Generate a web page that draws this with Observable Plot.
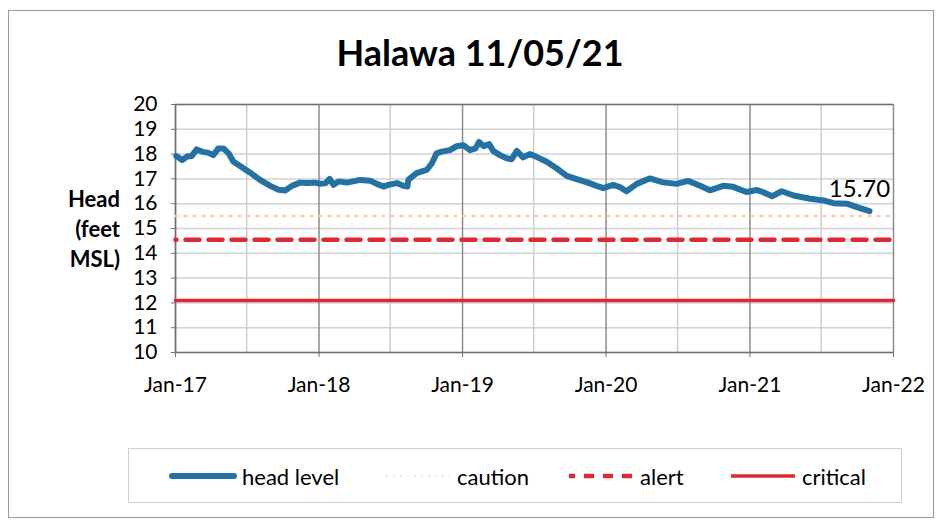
<!DOCTYPE html>
<html><head><meta charset="utf-8">
<script src="https://cdn.jsdelivr.net/npm/d3@7"></script>
<script src="https://cdn.jsdelivr.net/npm/@observablehq/plot@0.6"></script>
<style>
body{margin:0;background:#fff;font-family:Lato,"Open Sans",sans-serif;}
#chart{position:relative;width:942px;height:523px;overflow:hidden;background:#fff;}
#chart svg.plot{position:absolute;left:0;top:0;}
#border{position:absolute;left:8px;top:10px;width:926px;height:508px;border:1.5px solid #9a9a9a;box-sizing:border-box;}
#title{position:absolute;left:0;width:960px;top:30px;text-align:center;font-weight:bold;font-size:36px;color:#000;}
#ylabel{position:absolute;right:822px;top:184px;text-align:right;font-weight:bold;font-size:22px;line-height:30px;color:#000;}
#legend{position:absolute;left:128px;top:448px;width:774px;height:55px;border:1.5px solid #cfcfcf;box-sizing:border-box;}
.item{position:absolute;top:0;height:54px;display:flex;align-items:center;font-size:22px;color:#000;}
.item svg{margin-right:5px;}
</style></head><body>
<div id="chart">
 <div id="border"></div>
 <div id="title">Halawa 11/05/21</div>
 <div id="ylabel">Head<br>(feet<br>MSL)</div>
 <div id="legend"></div>
</div>
<script>
// ---- data ----
const headDates = ["2017-01-03","2017-01-18","2017-01-30","2017-02-11","2017-02-24","2017-03-09","2017-03-26","2017-04-07","2017-04-20","2017-05-03","2017-05-16","2017-05-28","2017-06-19","2017-07-10","2017-08-04","2017-08-30","2017-09-20","2017-10-07","2017-10-24","2017-11-14","2017-12-01","2017-12-22","2018-01-04","2018-01-17","2018-01-28","2018-02-07","2018-02-20","2018-03-13","2018-04-16","2018-05-11","2018-05-28","2018-06-14","2018-06-26","2018-07-18","2018-08-03","2018-08-14","2018-08-16","2018-09-06","2018-10-02","2018-10-15","2018-10-27","2018-11-09","2018-11-30","2018-12-17","2019-01-03","2019-01-20","2019-02-03","2019-02-12","2019-02-24","2019-03-10","2019-03-20","2019-04-06","2019-04-23","2019-05-06","2019-05-19","2019-06-04","2019-06-21","2019-07-08","2019-08-03","2019-08-28","2019-09-23","2019-10-18","2019-11-16","2019-12-08","2019-12-25","2020-01-19","2020-02-05","2020-02-22","2020-03-19","2020-04-21","2020-05-25","2020-06-28","2020-07-28","2020-08-27","2020-09-21","2020-10-25","2020-11-19","2020-12-23","2021-01-19","2021-02-04","2021-02-26","2021-03-23","2021-04-22","2021-06-03","2021-07-07","2021-08-01","2021-09-04","2021-09-30","2021-11-01"];
const headValues = [17.92,17.76,17.90,17.92,18.19,18.10,18.05,17.96,18.23,18.23,18.03,17.70,17.47,17.25,16.96,16.72,16.56,16.53,16.72,16.85,16.83,16.85,16.80,16.82,17.00,16.76,16.90,16.85,16.96,16.93,16.80,16.69,16.76,16.83,16.72,16.69,16.96,17.23,17.36,17.63,18.03,18.10,18.16,18.32,18.36,18.16,18.23,18.49,18.32,18.40,18.13,17.96,17.83,17.79,18.13,17.87,18.00,17.89,17.69,17.43,17.12,16.99,16.85,16.72,16.63,16.76,16.67,16.50,16.80,17.02,16.86,16.80,16.92,16.72,16.54,16.72,16.68,16.47,16.55,16.46,16.30,16.50,16.33,16.20,16.13,16.02,16.00,15.86,15.70];
const lastLabel = "15.70";
const thresholdDates = ["2017-01-01","2022-01-01"];
const cautionLevel = 15.5;
const alertLevel = 14.55;
const criticalLevel = 12.1;
const yTicks = [10,11,12,13,14,15,16,17,18,19,20];
const yearTicks = ["2017-01-01","2018-01-01","2019-01-01","2020-01-01","2021-01-01","2022-01-01"];
const yearLabels = ["Jan-17","Jan-18","Jan-19","Jan-20","Jan-21","Jan-22"];
const halfYearTicks = ["2017-07-01","2018-07-01","2019-07-01","2020-07-01","2021-07-01"];
const legendNames = ["head level","caution","alert","critical"];

// ---- build ----
const P = s => new Date(s + "T00:00:00Z");
const head = headDates.map((d,i) => ({date: P(d), value: headValues[i]}));
const thr = (v) => thresholdDates.map(d => ({date: P(d), value: v}));
const years = yearTicks.map(P);
const halves = halfYearTicks.map(P);
const last = head[head.length-1];

const blue = "#2471a3", red = "#dc2a2e", peach = "#f7cfae";

const plot = Plot.plot({
  width: 942, height: 523,
  marginLeft: 175, marginRight: 49, marginTop: 104, marginBottom: 171,
  style: {fontFamily: "Lato, 'Open Sans', sans-serif", fontSize: "21px", color: "#000", background: "transparent"},
  x: {type: "utc", domain: [P("2017-01-01"), P("2022-01-01")], label: null},
  y: {domain: [10, 20], label: null},
  marks: [
    Plot.ruleY(yTicks, {stroke: "#d2d2d2", strokeWidth: 1.5, strokeOpacity: 1}),
    Plot.ruleX(halves, {stroke: "#cdcdcd", strokeWidth: 1.5, strokeOpacity: 1}),
    Plot.ruleX(years, {stroke: "#8c8c8c", strokeWidth: 1.5, strokeOpacity: 1}),
    Plot.ruleY([20], {stroke: "#707070", strokeWidth: 1.5}),
    Plot.ruleY([10], {stroke: "#707070", strokeWidth: 1.5}),
    Plot.ruleX([years[0]], {stroke: "#707070", strokeWidth: 1.5}),
    Plot.axisY({ticks: yTicks, label: null, tickSize: 4, tickPadding: 14, fontSize: 21, stroke: "#707070", fill: "#000"}),
    Plot.axisX({ticks: years, label: null, tickFormat: (d,i) => yearLabels[i], tickSize: 5, tickPadding: 20, fontSize: 21, stroke: "#707070", fill: "#000"}),
    Plot.line(thr(cautionLevel), {x: "date", y: "value", stroke: peach, strokeWidth: 2.5, strokeDasharray: "2,7"}),
    Plot.line(thr(alertLevel), {x: "date", y: "value", stroke: red, strokeWidth: 4.5, strokeDasharray: "14,9", strokeDashoffset: -10}),
    Plot.line(thr(criticalLevel), {x: "date", y: "value", stroke: red, strokeWidth: 3.5}),
    Plot.line(head, {x: "date", y: "value", stroke: blue, strokeWidth: 6, strokeLinejoin: "round", strokeLinecap: "round"}),
    Plot.text([last], {x: "date", y: "value", text: () => lastLabel, dy: -22, dx: -10, fontSize: 24, fill: "#000"})
  ]
});
plot.classList.add("plot");
document.getElementById("chart").appendChild(plot);

// legend
const legend = document.getElementById("legend");
const swatches = [
  {left: 40, line: `<line x1="3" y1="8" x2="65" y2="8" stroke="${blue}" stroke-width="6" stroke-linecap="round"/>`},
  {left: 255, line: `<line x1="2" y1="8" x2="66" y2="8" stroke="#f3e9cf" stroke-width="2.5" stroke-dasharray="2,5"/>`},
  {left: 438, line: `<line x1="2" y1="8" x2="66" y2="8" stroke="${red}" stroke-width="4.5" stroke-dasharray="10,9" stroke-dashoffset="4"/>`},
  {left: 600, line: `<line x1="2" y1="8" x2="66" y2="8" stroke="${red}" stroke-width="3.5"/>`}
];
legendNames.forEach((name, i) => {
  const el = document.createElement("div");
  el.className = "item";
  el.style.left = swatches[i].left + "px";
  el.innerHTML = `<svg width="68" height="16">${swatches[i].line}</svg><span>${name}</span>`;
  legend.appendChild(el);
});
</script>
</body></html>
